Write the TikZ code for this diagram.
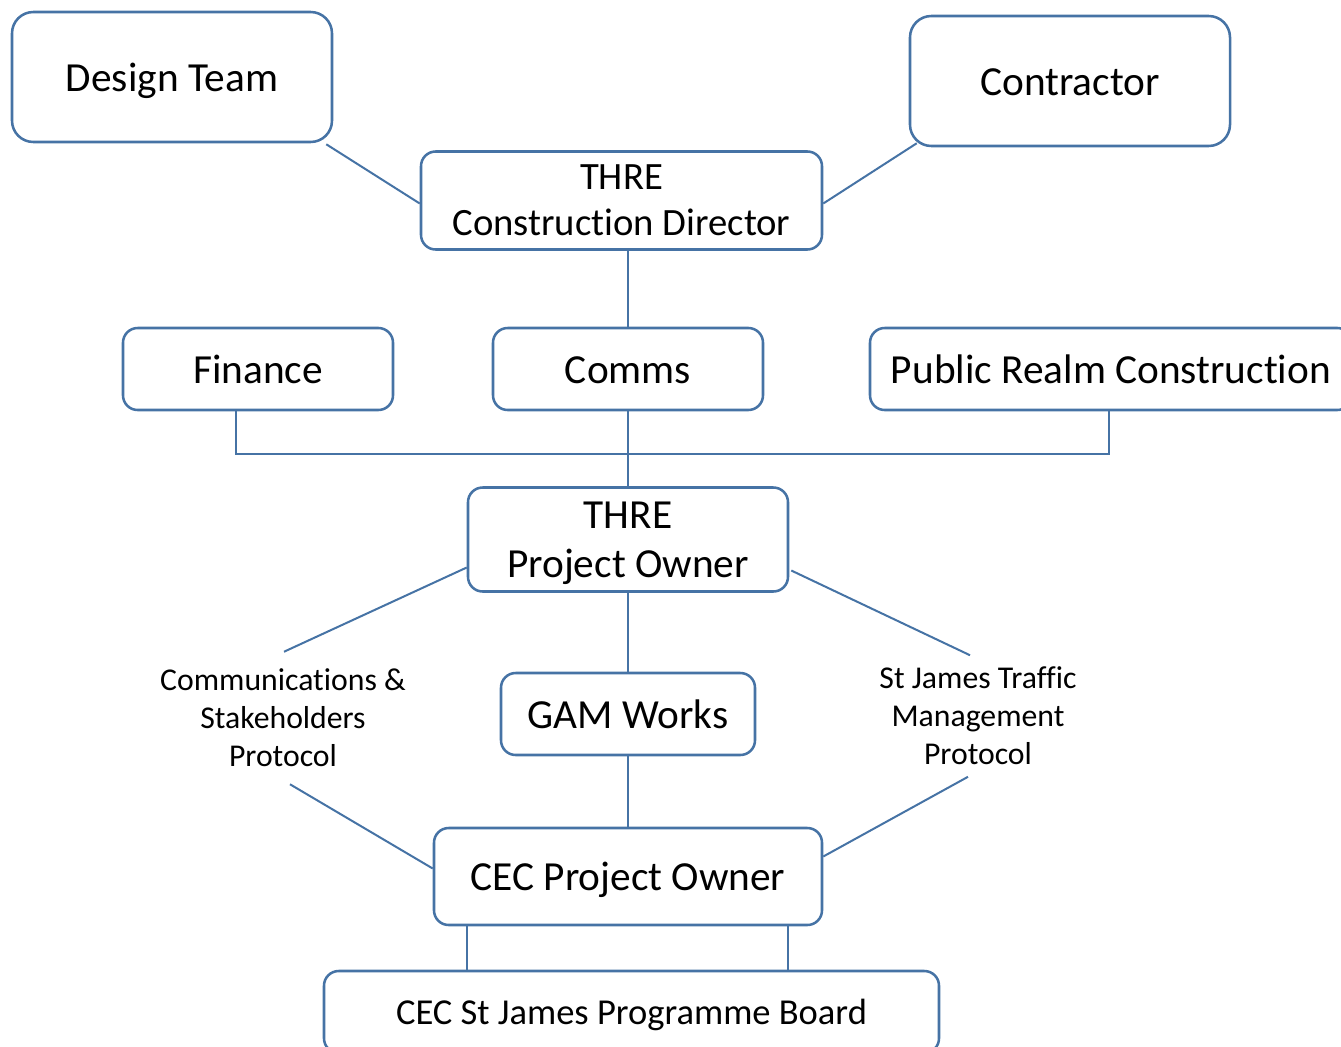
\documentclass[tikz,border=0pt]{standalone}
\usepackage{fontspec}
\setmainfont[Ligatures=NoCommon]{Carlito}
\usetikzlibrary{calc}
\definecolor{edgeblue}{RGB}{70,115,165}
\newlength\px
\setlength\px{0.75pt}
\tikzset{
  box/.style={draw=edgeblue, line width=1.9pt, rounded corners=11pt, fill=white,
    align=center, inner sep=0pt, font=\fontsize{31}{37}\selectfont},
  one/.style={text height=27.5pt, text depth=6pt},
  bigbox/.style={box, one, rounded corners=16pt},
  lbl/.style={align=center, inner sep=0pt, font=\fontsize{23.8}{28.5}\selectfont},
  conn/.style={draw=edgeblue, line width=1.5pt},
}
\begin{document}
\begin{tikzpicture}[x=0.75pt,y=-0.75pt]
\useasboundingbox (0,0) rectangle (1341,1046);
\clip (0,0) rectangle (1341,1046);
% boxes
\node[bigbox, minimum width=320\px, minimum height=130\px] (design) at (172,77) {Design Team};
\node[bigbox, minimum width=320\px, minimum height=130\px] (contractor) at (1070,81) {Contractor};
\node[box, minimum width=401\px, minimum height=98\px, font=\fontsize{29}{34.5}\selectfont] (cd) at (621.5,200.5) {THRE\\Construction Director};
\node[box, one, minimum width=270\px, minimum height=82\px] (finance) at (258,369) {Finance};
\node[box, one, minimum width=270\px, minimum height=82\px] (comms) at (628,369) {Comms};
\node[box, one, minimum width=482\px, minimum height=82\px] (prc) at (1111,369) {Public Realm Construction};
\node[box, minimum width=320\px, minimum height=104\px, font=\fontsize{31}{36.75}\selectfont] (po) at (628,539.5) {THRE\\\raisebox{0pt}[\height][0pt]{Project Owner}};
\node[lbl, minimum height=132\px] (cspl) at (283,718) {Communications \&\\Stakeholders\\Protocol};
\node[box, one, minimum width=254\px, minimum height=82\px] (gam) at (628,714) {GAM Works};
\node[lbl, minimum height=121\px] (stj) at (978,716) {St James Traffic\\Management\\Protocol};
\node[box, one, minimum width=388\px, minimum height=97\px] (cec) at (628,876.5) {CEC Project Owner};
\node[box, minimum width=615\px, minimum height=82\px, font=\fontsize{27.4}{32}\selectfont, text height=24.3pt, text depth=5.4pt] (board) at (631.5,1012) {CEC St James Programme Board};
\coordinate (busL) at (236,454);
\coordinate (busR) at (1109,454);
% connectors
\draw[conn] ($(design.south east)+(-7,1)$) -- ($(cd.west)+(0,3)$);
\draw[conn] ($(contractor.south west)+(8,-4)$) -- ($(cd.east)+(0,3)$);
\draw[conn] (cd.south -| comms.north) -- (comms.north);
\draw[conn] (busL |- finance.south) -- (busL) -- (busR) -- (busR |- prc.south);
\draw[conn] (comms.south) -- (po.north);
\draw[conn] ($(po.west)+(0,28)$) -- ($(cspl.north)+(1,0)$);
\draw[conn] ($(po.east)+(2,31)$) -- ($(stj.north)+(-8,0)$);
\draw[conn] (po.south) -- (gam.north);
\draw[conn] (gam.south) -- (cec.north);
\draw[conn] ($(cspl.south)+(7,0)$) -- ($(cec.west)+(0,-8)$);
\draw[conn] ($(stj.south)+(-10,0)$) -- ($(cec.east)+(0,-20)$);
\draw[conn] ($(cec.south west)+(34,0)$) coordinate (c1) -- (c1 |- board.north);
\draw[conn] ($(cec.south east)+(-35,0)$) coordinate (c2) -- (c2 |- board.north);
\end{tikzpicture}
\end{document}
